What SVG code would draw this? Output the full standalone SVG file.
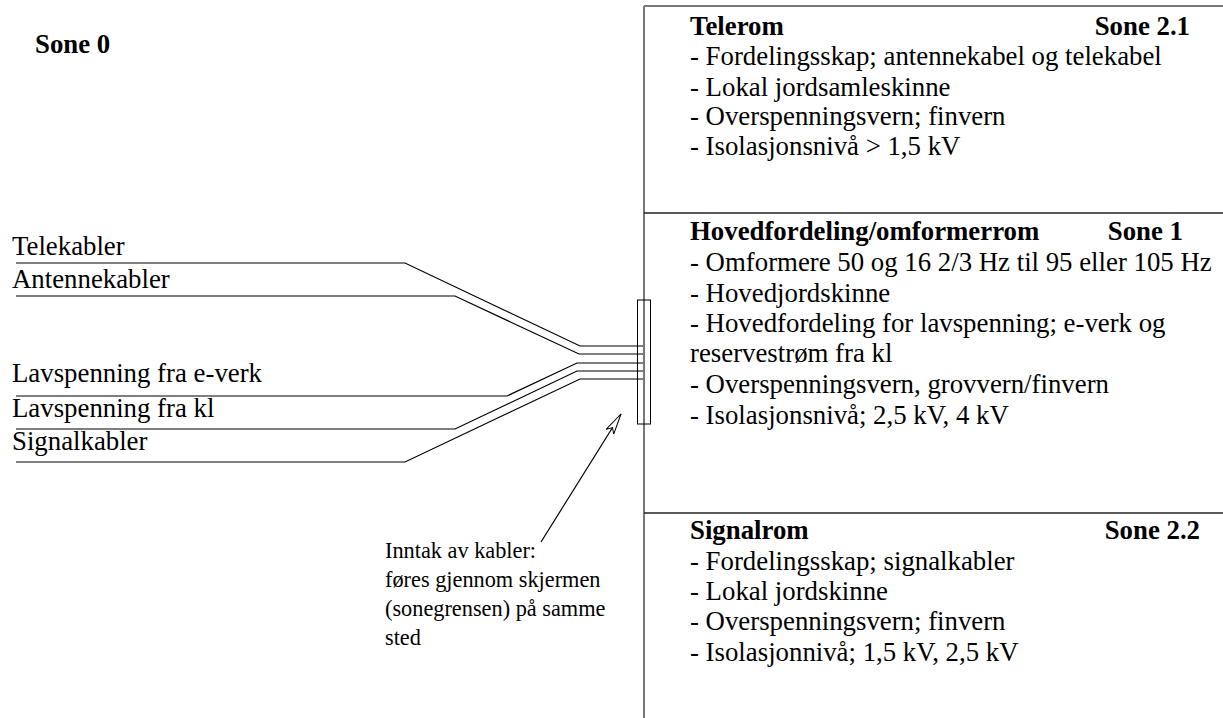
<svg xmlns="http://www.w3.org/2000/svg" width="1223" height="718" viewBox="0 0 1223 718">
<defs>
<style>
text { font-family: "Liberation Serif", "Times New Roman", serif; font-size: 26.8px; fill: #000; }
.b { font-weight: bold; }
.note { font-size: 22.3px; }
.cable { fill: none; stroke: #000; stroke-width: 1.2; }
.wall { fill: none; stroke: #777; stroke-width: 2; }
.div { fill: none; stroke: #222; stroke-width: 1.5; }
</style>
<marker id="openArrow" markerWidth="24" markerHeight="12" refX="21" refY="6" orient="auto" markerUnits="userSpaceOnUse">
<path d="M0,1.5 L21,6 L0,10.5 L5,6 Z" fill="#fff" stroke="#000" stroke-width="1"/>
</marker>
</defs>
<rect width="1223" height="718" fill="#fff"/>

<g id="zone0">
<text class="b" x="35" y="53">Sone 0</text>
</g>

<g id="walls">
<line class="wall" x1="644" y1="6" x2="644" y2="718"/>
<line class="wall" x1="644" y1="6" x2="1223" y2="6"/>
<line class="div" x1="644" y1="213" x2="1223" y2="213"/>
<line class="div" x1="644" y1="513" x2="1223" y2="513"/>
</g>

<g id="telerom">
<text class="b" x="690" y="35">Telerom</text>
<text class="b" x="1190" y="35" text-anchor="end">Sone 2.1</text>
<text x="690" y="65">- Fordelingsskap; antennekabel og telekabel</text>
<text x="690" y="96">- Lokal jordsamleskinne</text>
<text x="690" y="125">- Overspenningsvern; finvern</text>
<text x="690" y="155">- Isolasjonsnivå &gt; 1,5 kV</text>
</g>

<g id="hovedfordeling">
<text class="b" x="690" y="240">Hovedfordeling/omformerrom</text>
<text class="b" x="1183" y="240" text-anchor="end">Sone 1</text>
<text x="690" y="271">- Omformere 50 og 16 2/3 Hz til 95 eller 105 Hz</text>
<text x="690" y="302">- Hovedjordskinne</text>
<text x="690" y="332">- Hovedfordeling for lavspenning; e-verk og</text>
<text x="690" y="362">reservestrøm fra kl</text>
<text x="690" y="393">- Overspenningsvern, grovvern/finvern</text>
<text x="690" y="424">- Isolasjonsnivå; 2,5 kV, 4 kV</text>
</g>

<g id="signalrom">
<text class="b" x="690" y="539">Signalrom</text>
<text class="b" x="1200" y="539" text-anchor="end">Sone 2.2</text>
<text x="690" y="570">- Fordelingsskap; signalkabler</text>
<text x="690" y="600">- Lokal jordskinne</text>
<text x="690" y="630">- Overspenningsvern; finvern</text>
<text x="690" y="661">- Isolasjonnivå; 1,5 kV, 2,5 kV</text>
</g>

<g id="entry">
<rect x="637.5" y="300" width="13" height="124" fill="none" stroke="#000" stroke-width="1"/>
</g>

<g id="cable-labels">
<text x="12" y="255">Telekabler</text>
<text x="12" y="288">Antennekabler</text>
<text x="12" y="382">Lavspenning fra e-verk</text>
<text x="12" y="417">Lavspenning fra kl</text>
<text x="12" y="450">Signalkabler</text>
</g>

<g id="annotation">
<text class="note" x="385" y="558">Inntak av kabler:</text>
<text class="note" x="385" y="587">føres gjennom skjermen</text>
<text class="note" x="385" y="616">(sonegrensen) på samme</text>
<text class="note" x="385" y="645">sted</text>
</g>

<g id="connectors">
<polyline class="cable" points="16,263 405,263 580,346 643,346"/>
<polyline class="cable" points="16,296 455,296 579,354 643,354"/>
<polyline class="cable" points="16,396 507,396 577,363 643,363"/>
<polyline class="cable" points="16,429 455,429 577,371 643,371"/>
<polyline class="cable" points="16,462 405,462 580,379 643,379"/>
<line x1="541" y1="542" x2="621" y2="414" stroke="#000" stroke-width="1.2" marker-end="url(#openArrow)"/>
</g>
</svg>
